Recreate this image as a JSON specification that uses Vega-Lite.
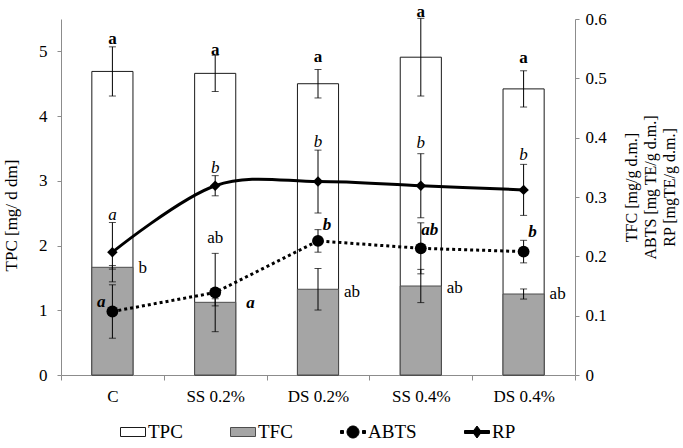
{
  "$schema": "https://vega.github.io/schema/vega-lite/v6.json",
  "width": 514,
  "height": 356,
  "autosize": {"type": "none"},
  "padding": {"left": 61, "top": 19, "right": 108, "bottom": 73},
  "background": "white",
  "config": {
    "font": "Times New Roman, Liberation Serif, serif",
    "view": {"stroke": null},
    "axis": {
      "labelFont": "Times New Roman, Liberation Serif, serif",
      "labelFontSize": 17,
      "labelColor": "black",
      "titleFont": "Times New Roman, Liberation Serif, serif",
      "titleFontWeight": "normal",
      "titleColor": "black",
      "domainColor": "#8c8c8c",
      "tickColor": "#8c8c8c",
      "grid": false,
      "tickSize": 4
    },
    "legend": {"labelFont": "Times New Roman, Liberation Serif, serif"},
    "text": {"font": "Times New Roman, Liberation Serif, serif", "fontSize": 17, "color": "black", "baseline": "middle"}
  },
  "datasets": {
    "measurements": [
      {"cat": "C", "series": "TPC", "value": 4.69, "err": 0.38},
      {"cat": "SS 0.2%", "series": "TPC", "value": 4.66, "err": 0.28},
      {"cat": "DS 0.2%", "series": "TPC", "value": 4.50, "err": 0.22},
      {"cat": "SS 0.4%", "series": "TPC", "value": 4.91, "err": 0.60},
      {"cat": "DS 0.4%", "series": "TPC", "value": 4.42, "err": 0.28},
      {"cat": "C", "series": "TFC", "value": 0.1815, "err": 0.003},
      {"cat": "SS 0.2%", "series": "TFC", "value": 0.1225, "err": 0.006},
      {"cat": "DS 0.2%", "series": "TFC", "value": 0.1445, "err": 0.035},
      {"cat": "SS 0.4%", "series": "TFC", "value": 0.150, "err": 0.028},
      {"cat": "DS 0.4%", "series": "TFC", "value": 0.1365, "err": 0.0085},
      {"cat": "C", "series": "ABTS", "value": 0.107, "err": 0.045},
      {"cat": "SS 0.2%", "series": "ABTS", "value": 0.139, "err": 0.066},
      {"cat": "DS 0.2%", "series": "ABTS", "value": 0.226, "err": 0.019},
      {"cat": "SS 0.4%", "series": "ABTS", "value": 0.2135, "err": 0.043},
      {"cat": "DS 0.4%", "series": "ABTS", "value": 0.208, "err": 0.019},
      {"cat": "C", "series": "RP", "value": 0.207, "err": 0.05},
      {"cat": "SS 0.2%", "series": "RP", "value": 0.319, "err": 0.017},
      {"cat": "DS 0.2%", "series": "RP", "value": 0.326, "err": 0.053},
      {"cat": "SS 0.4%", "series": "RP", "value": 0.319, "err": 0.054},
      {"cat": "DS 0.4%", "series": "RP", "value": 0.312, "err": 0.043}
    ],
    "letters": [
      {"cat": "C", "series": "TPC", "letter": "a", "value": 5.19, "place": "above"},
      {"cat": "SS 0.2%", "series": "TPC", "letter": "a", "value": 5.02, "place": "above"},
      {"cat": "DS 0.2%", "series": "TPC", "letter": "a", "value": 4.92, "place": "above"},
      {"cat": "SS 0.4%", "series": "TPC", "letter": "a", "value": 5.61, "place": "above"},
      {"cat": "DS 0.4%", "series": "TPC", "letter": "a", "value": 4.90, "place": "above"},
      {"cat": "C", "series": "RP", "letter": "a", "value": 0.2697, "place": "above"},
      {"cat": "SS 0.2%", "series": "RP", "letter": "b", "value": 0.3484, "place": "above"},
      {"cat": "DS 0.2%", "series": "RP", "letter": "b", "value": 0.3932, "place": "above"},
      {"cat": "SS 0.4%", "series": "RP", "letter": "b", "value": 0.3915, "place": "above"},
      {"cat": "DS 0.4%", "series": "RP", "letter": "b", "value": 0.3708, "place": "above"},
      {"cat": "C", "series": "TFC", "letter": "b", "value": 0.1803, "place": "right"},
      {"cat": "SS 0.2%", "series": "TFC", "letter": "ab", "value": 0.2309, "place": "above"},
      {"cat": "DS 0.2%", "series": "TFC", "letter": "ab", "value": 0.1404, "place": "right"},
      {"cat": "SS 0.4%", "series": "TFC", "letter": "ab", "value": 0.1466, "place": "right"},
      {"cat": "DS 0.4%", "series": "TFC", "letter": "ab", "value": 0.1365, "place": "right"},
      {"cat": "C", "series": "ABTS", "letter": "a", "value": 0.1225, "place": "left"},
      {"cat": "SS 0.2%", "series": "ABTS", "letter": "a", "value": 0.1208, "place": "right"},
      {"cat": "DS 0.2%", "series": "ABTS", "letter": "b", "value": 0.2528, "place": "aboveright"},
      {"cat": "SS 0.4%", "series": "ABTS", "letter": "ab", "value": 0.2444, "place": "aboveright"},
      {"cat": "DS 0.4%", "series": "ABTS", "letter": "b", "value": 0.2415, "place": "aboveright"}
    ]
  },
  "encoding": {
    "x": {
      "field": "cat",
      "type": "nominal",
      "sort": ["C", "SS 0.2%", "DS 0.2%", "SS 0.4%", "DS 0.4%"],
      "scale": {"paddingInner": 0, "paddingOuter": 0},
      "axis": {"title": null, "labelAngle": 0, "tickBand": "extent", "tickSize": 5, "labelPadding": 8}
    }
  },
  "layer": [
    {
      "encoding": {
        "y": {
          "field": "value",
          "type": "quantitative",
          "scale": {"domain": [0, 5.5], "nice": false, "zero": true},
          "axis": {"orient": "left", "values": [0, 1, 2, 3, 4, 5], "title": "TPC [mg/ d dm]", "titleFontSize": 17, "labelPadding": 10, "titlePadding": 18, "titleY": 196}
        }
      },
      "layer": [
        {
          "data": {"name": "measurements"},
          "transform": [{"filter": "datum.series === 'TPC'"}],
          "mark": {"type": "bar", "width": {"band": 0.4}, "fill": "white", "stroke": "#1a1a1a", "strokeWidth": 1}
        },
        {
          "data": {"name": "measurements"},
          "transform": [{"filter": "datum.series === 'TPC'"}],
          "mark": {"type": "errorbar", "color": "black", "thickness": 1, "ticks": {"size": 7}},
          "encoding": {"yError": {"field": "err"}}
        },
        {
          "data": {"name": "letters"},
          "transform": [{"filter": "datum.series === 'TPC'"}],
          "mark": {"type": "text", "fontWeight": "bold", "align": "center"},
          "encoding": {"text": {"field": "letter"}}
        }
      ]
    },
    {
      "encoding": {
        "y": {
          "field": "value",
          "type": "quantitative",
          "scale": {"domain": [0, 0.6], "nice": false, "zero": true},
          "axis": {
            "orient": "right",
            "values": [0, 0.1, 0.2, 0.3, 0.4, 0.5, 0.6],
            "format": "~g",
            "title": ["TFC [mg/g d.m.]", "ABTS [mg TE/g d.m.]", "RP [mgTE/g d.m.]"],
            "titleAngle": 270,
            "titleFontSize": 16,
            "titleLineHeight": 19,
            "titleAlign": "center",
            "labelPadding": 6,
            "titlePadding": -5,
            "titleY": 168
          }
        }
      },
      "layer": [
        {
          "data": {"name": "measurements"},
          "transform": [{"filter": "datum.series === 'TFC'"}],
          "mark": {"type": "bar", "width": {"band": 0.4}, "fill": "#a5a5a5", "stroke": "#4d4d4d", "strokeWidth": 1}
        },
        {
          "data": {"name": "measurements"},
          "transform": [{"filter": "datum.series !== 'TPC'"}],
          "mark": {"type": "errorbar", "color": "black", "thickness": 1, "ticks": {"size": 7}},
          "encoding": {"yError": {"field": "err"}}
        },
        {
          "data": {"name": "measurements"},
          "transform": [{"filter": "datum.series === 'ABTS'"}],
          "mark": {"type": "line", "color": "black", "strokeWidth": 3, "strokeDash": [3, 3]}
        },
        {
          "data": {"name": "measurements"},
          "transform": [{"filter": "datum.series === 'RP'"}],
          "mark": {"type": "line", "color": "black", "strokeWidth": 3, "interpolate": "cardinal"}
        },
        {
          "data": {"name": "measurements"},
          "transform": [{"filter": "datum.series === 'ABTS'"}],
          "mark": {"type": "point", "shape": "circle", "filled": true, "size": 140, "color": "black", "opacity": 1}
        },
        {
          "data": {"name": "measurements"},
          "transform": [{"filter": "datum.series === 'RP'"}],
          "mark": {"type": "point", "shape": "diamond", "filled": true, "size": 110, "color": "black", "opacity": 1}
        },
        {
          "data": {"name": "letters"},
          "transform": [{"filter": "datum.series === 'RP'"}],
          "mark": {"type": "text", "fontStyle": "italic", "align": "center"},
          "encoding": {"text": {"field": "letter"}}
        },
        {
          "data": {"name": "letters"},
          "transform": [{"filter": "datum.series === 'TFC' && datum.place === 'right'"}],
          "mark": {"type": "text", "align": "left", "dx": 26},
          "encoding": {"text": {"field": "letter"}}
        },
        {
          "data": {"name": "letters"},
          "transform": [{"filter": "datum.series === 'TFC' && datum.place === 'above'"}],
          "mark": {"type": "text", "align": "center"},
          "encoding": {"text": {"field": "letter"}}
        },
        {
          "data": {"name": "letters"},
          "transform": [{"filter": "datum.series === 'ABTS' && datum.place === 'left'"}],
          "mark": {"type": "text", "align": "right", "dx": -7, "fontWeight": "bold", "fontStyle": "italic"},
          "encoding": {"text": {"field": "letter"}}
        },
        {
          "data": {"name": "letters"},
          "transform": [{"filter": "datum.series === 'ABTS' && datum.place === 'right'"}],
          "mark": {"type": "text", "align": "left", "dx": 31, "fontWeight": "bold", "fontStyle": "italic"},
          "encoding": {"text": {"field": "letter"}}
        },
        {
          "data": {"name": "letters"},
          "transform": [{"filter": "datum.series === 'ABTS' && datum.place === 'aboveright'"}],
          "mark": {"type": "text", "align": "center", "dx": 9, "fontWeight": "bold", "fontStyle": "italic"},
          "encoding": {"text": {"field": "letter"}}
        },
        {
          "data": {"values": []},
          "mark": {"type": "point", "filled": true, "strokeWidth": 1, "opacity": 1},
          "encoding": {
            "shape": {
              "field": "series",
              "type": "nominal",
              "scale": {
                "domain": ["TPC", "TFC", "ABTS", "RP"],
                "range": [
                  "M-1,-0.36H1V0.36H-1Z",
                  "M-1,-0.36H1V0.36H-1Z",
                  "M-1,-0.12h0.24v0.24h-0.24Z M0.76,-0.12h0.24v0.24h-0.24Z M-0.48,0A0.48,0.48 0 1,1 0.48,0A0.48,0.48 0 1,1 -0.48,0Z",
                  "M-1,-0.12H1V0.12H-1Z M0,-0.48L0.36,0L0,0.48L-0.36,0Z"
                ]
              },
              "legend": {"orient": "none", "legendX": 59, "legendY": 400, "direction": "horizontal", "title": null, "labelFontSize": 19, "labelColor": "black", "symbolSize": 625, "symbolStrokeWidth": 1, "symbolOpacity": 1, "labelOffset": 2, "columnPadding": 45}
            },
            "fill": {
              "field": "series",
              "type": "nominal",
              "scale": {"domain": ["TPC", "TFC", "ABTS", "RP"], "range": ["white", "#a5a5a5", "black", "black"]},
              "legend": {"orient": "none", "legendX": 59, "legendY": 400, "direction": "horizontal", "title": null, "labelFontSize": 19, "labelColor": "black", "symbolSize": 625, "symbolStrokeWidth": 1, "symbolOpacity": 1, "labelOffset": 2, "columnPadding": 45}
            },
            "stroke": {
              "field": "series",
              "type": "nominal",
              "scale": {"domain": ["TPC", "TFC", "ABTS", "RP"], "range": ["#1a1a1a", "#4d4d4d", "black", "black"]},
              "legend": {"orient": "none", "legendX": 59, "legendY": 400, "direction": "horizontal", "title": null, "labelFontSize": 19, "labelColor": "black", "symbolSize": 625, "symbolStrokeWidth": 1, "symbolOpacity": 1, "labelOffset": 2, "columnPadding": 45}
            }
          }
        }
      ]
    }
  ],
  "resolve": {"scale": {"y": "independent"}}
}
